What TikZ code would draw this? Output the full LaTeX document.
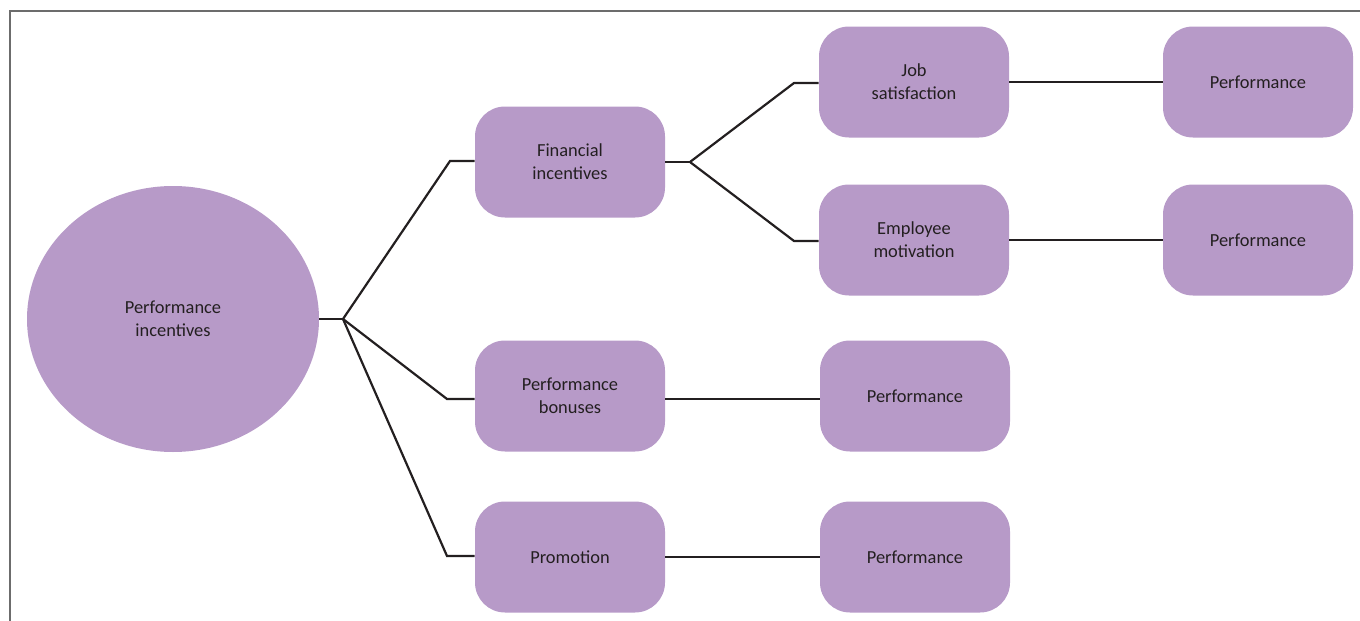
\documentclass[tikz,border=0pt]{standalone}
\usepackage{fontspec}
\setmainfont{Carlito}
\usetikzlibrary{shapes.geometric}
\definecolor{boxfill}{HTML}{B79AC8}
\definecolor{txt}{HTML}{231F20}
\tikzset{
  box/.style={draw=none, fill=boxfill, rounded corners=22.5pt, minimum width=142.5pt, minimum height=83.25pt, align=center, text=txt, font=\fontsize{13.8}{17.25}\selectfont, inner sep=0pt},
  oval/.style={ellipse, draw=none, fill=boxfill, minimum width=219pt, minimum height=199.5pt, align=center, text=txt, font=\fontsize{13.8}{17.25}\selectfont, inner sep=0pt},
  link/.style={draw=txt, line width=1.65pt, line join=miter}
}
\begin{document}
\begin{tikzpicture}[x=0.75pt, y=-0.75pt]
\useasboundingbox (0,0) rectangle (1360,621);
\draw[gray!85!black, line width=1.2pt] (10,621) -- (10,11) -- (1360,11);
\node[oval] (root) at (173,319) {Performance\\incentives};
\node[box] (fin) at (570,162) {Financial\\incentives};
\node[box] (bon) at (570,396) {Performance\\bonuses};
\node[box] (pro) at (570,557) {Promotion};
\node[box] (job) at (914,82) {Job\\satisfaction};
\node[box] (emp) at (914,240) {Employee\\motivation};
\node[box] (p3) at (915,396) {Performance};
\node[box] (p4) at (915,557) {Performance};
\node[box] (p1) at (1258,82) {Performance};
\node[box] (p2) at (1258,240) {Performance};
\coordinate (j1) at (343,319);
\coordinate (j2) at (690,162);
\draw[link] (root.east) -- (j1);
\draw[link] (j1) -- (450,161) -- (fin.west |- 0,161);
\draw[link] (j1) -- (447,399) -- (bon.west |- 0,399);
\draw[link] (j1) -- (447,556) -- (pro.west |- 0,556);
\draw[link] (fin.east) -- (j2);
\draw[link] (j2) -- (794,83) -- (job.west |- 0,83);
\draw[link] (j2) -- (794,241) -- (emp.west |- 0,241);
\draw[link] (job.east) -- (p1.west);
\draw[link] (emp.east) -- (p2.west);
\draw[link] (bon.east |- 0,399) -- (p3.west |- 0,399);
\draw[link] (pro.east) -- (p4.west);
\end{tikzpicture}
\end{document}
